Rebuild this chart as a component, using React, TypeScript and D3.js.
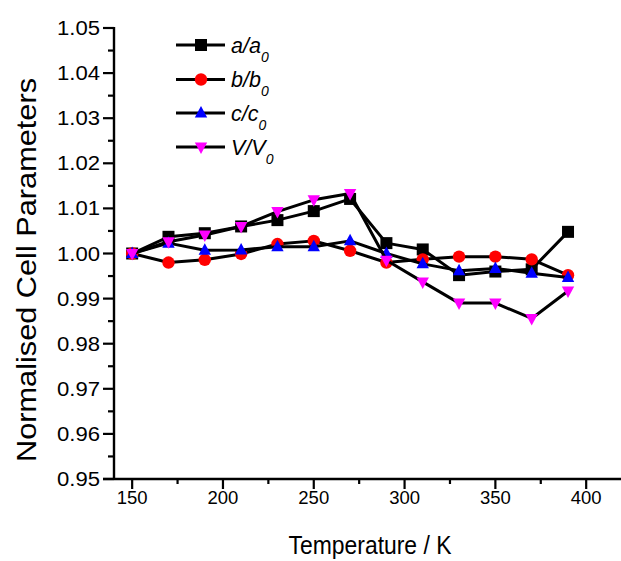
import React from "react";
import * as d3 from "d3";

const temperatures = [150, 170, 190, 210, 230, 250, 270, 290, 310, 330, 350, 370, 390];
const aSeries = [1.0, 1.0037, 1.0045, 1.006, 1.0074, 1.0094, 1.0121, 1.0023, 1.0009, 0.9952, 0.996, 0.9965, 1.0048];
const bSeries = [1.0, 0.998, 0.9986, 0.9999, 1.0021, 1.0028, 1.0006, 0.998, 0.9987, 0.9993, 0.9993, 0.9987, 0.9952];
const cSeries = [1.0, 1.0023, 1.0007, 1.0008, 1.0015, 1.0015, 1.0028, 1.0, 0.9977, 0.9962, 0.9967, 0.9956, 0.9947];
const vSeries = [1.0, 1.0026, 1.0041, 1.006, 1.0093, 1.0119, 1.0133, 0.9985, 0.9937, 0.989, 0.989, 0.9856, 0.9917];
const xTicks = [150, 200, 250, 300, 350, 400];
const yTicks = [0.95, 0.96, 0.97, 0.98, 0.99, 1.0, 1.01, 1.02, 1.03, 1.04, 1.05];
const seriesNames = ["a", "b", "c", "V"];

const W = 621;
const H = 561;
const FONT = "'Liberation Sans', Arial, sans-serif";

export default function App() {
  const x = d3.scaleLinear().domain([140, 420]).range([114, 622.5]);
  const y = d3.scaleLinear().domain([0.95, 1.05]).range([479, 28]);

  const series = [
    { name: seriesNames[0], values: aSeries, color: "#000000", shape: "square" },
    { name: seriesNames[1], values: bSeries, color: "#ff0000", shape: "circle" },
    { name: seriesNames[2], values: cSeries, color: "#0000ff", shape: "up" },
    { name: seriesNames[3], values: vSeries, color: "#ff00ff", shape: "down" },
  ];

  const line = d3
    .line<[number, number]>()
    .x((d) => x(d[0]))
    .y((d) => y(d[1]));

  const marker = (shape: string, cx: number, cy: number, color: string, key: string) => {
    if (shape === "square") {
      return <rect key={key} x={cx - 6} y={cy - 6} width={12} height={12} fill={color} />;
    }
    if (shape === "circle") {
      return <circle key={key} cx={cx} cy={cy} r={6.2} fill={color} />;
    }
    if (shape === "up") {
      const p = `${cx},${cy - 7} ${cx + 6.2},${cy + 4.5} ${cx - 6.2},${cy + 4.5}`;
      return <polygon key={key} points={p} fill={color} />;
    }
    const p = `${cx},${cy + 7} ${cx + 6.2},${cy - 4.5} ${cx - 6.2},${cy - 4.5}`;
    return <polygon key={key} points={p} fill={color} />;
  };

  const xMinor = d3.range(175, 420, 50);
  const yMinor = d3.range(0, 10).map((i) => 0.955 + i * 0.01);

  const legendRows = [45, 79.5, 113, 147];

  return (
    <svg width={W} height={H} style={{ position: "absolute", left: 0, top: 0, background: "#fff" }}>
      <rect width={W} height={H} fill="#fff" />
      {/* axes */}
      <line x1={114} x2={114} y1={27} y2={480} stroke="#000" strokeWidth={2.4} />
      <line x1={103} x2={621} y1={479} y2={479} stroke="#000" strokeWidth={2.4} />
      {yTicks.map((t) => (
        <g key={"yt" + t}>
          <line x1={103} x2={114} y1={y(t)} y2={y(t)} stroke="#000" strokeWidth={2.2} />
          <text
            x={100}
            y={y(t) + 7}
            textAnchor="end"
            fontFamily={FONT}
            fontSize={20}
            textLength={43}
            lengthAdjust="spacingAndGlyphs"
          >
            {t.toFixed(2)}
          </text>
        </g>
      ))}
      {yMinor.map((t) => (
        <line key={"ym" + t} x1={108} x2={114} y1={y(t)} y2={y(t)} stroke="#000" strokeWidth={2.2} />
      ))}
      {xTicks.map((t) => (
        <g key={"xt" + t}>
          <line x1={x(t)} x2={x(t)} y1={479} y2={489} stroke="#000" strokeWidth={2.2} />
          <text x={x(t)} y={503.5} textAnchor="middle" fontFamily={FONT} fontSize={18.5}>
            {t}
          </text>
        </g>
      ))}
      {xMinor.map((t) => (
        <line key={"xm" + t} x1={x(t)} x2={x(t)} y1={479} y2={484} stroke="#000" strokeWidth={2.2} />
      ))}
      {/* titles */}
      <text
        transform="translate(36,270) rotate(-90)"
        textAnchor="middle"
        fontFamily={FONT}
        fontSize={28}
        textLength={384}
        lengthAdjust="spacingAndGlyphs"
      >
        Normalised Cell Parameters
      </text>
      <text
        x={370}
        y={554}
        textAnchor="middle"
        fontFamily={FONT}
        fontSize={26}
        textLength={163}
        lengthAdjust="spacingAndGlyphs"
      >
        Temperature / K
      </text>
      {/* data */}
      {series.map((s) => {
        const pts: [number, number][] = temperatures.map((t, i) => [t, s.values[i]]);
        return (
          <g key={s.name}>
            <path d={line(pts) || ""} fill="none" stroke="#000" strokeWidth={3} strokeLinejoin="round" />
            {pts.map((p, i) => marker(s.shape, x(p[0]), y(p[1]), s.color, s.name + i))}
          </g>
        );
      })}
      {/* legend */}
      {series.map((s, i) => {
        const ly = legendRows[i];
        return (
          <g key={"lg" + s.name}>
            <line x1={176} x2={225} y1={ly} y2={ly} stroke="#000" strokeWidth={3} />
            {marker(s.shape, 201, ly, s.color, "lm" + i)}
            <text x={231} y={ly + 7.5} fontFamily={FONT} fontSize={21.5} fontStyle="italic">
              {s.name}/{s.name}
              <tspan fontSize={14} dy={9}>0</tspan>
            </text>
          </g>
        );
      })}
    </svg>
  );
}
